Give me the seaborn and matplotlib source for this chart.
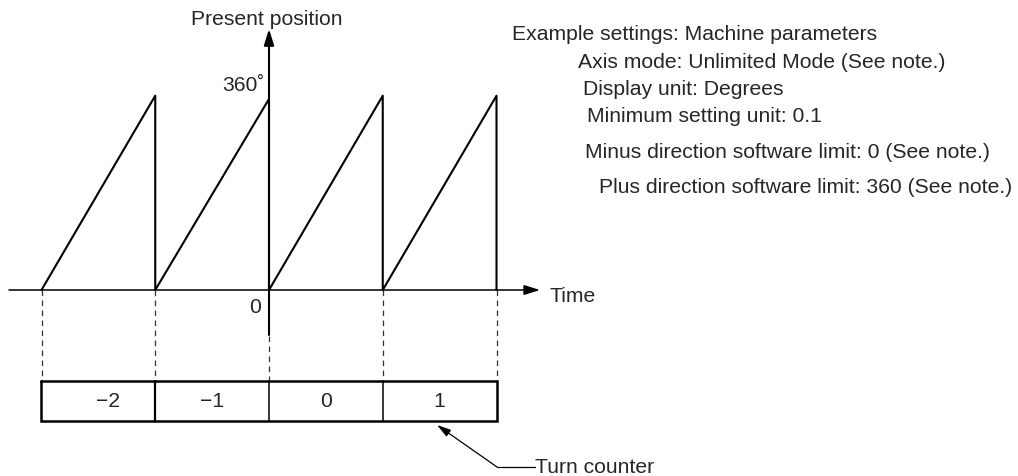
import matplotlib
matplotlib.use("Agg")
import matplotlib.pyplot as plt
import seaborn as sns
import numpy as np
import pandas as pd

# ---- data ----
turn_starts = [-2, -1, 0, 1]          # time (in turns) where each ramp starts
turn_ends = [-1, 0, 1, 2]             # time where each ramp ends
ramp_tops = [360, 354, 360, 360]      # present position reached at ramp end (deg)
counter_values = ["\u22122", "\u22121", "0", "1"]
settings_lines = [
    "Example settings: Machine parameters",
    "Axis mode: Unlimited Mode (See note.)",
    "Display unit: Degrees",
    "Minimum setting unit: 0.1",
    "Minus direction software limit: 0 (See note.)",
    "Plus direction software limit: 360 (See note.)",
]

sns.set_theme(style="white")
plt.rcParams['font.family'] = ['Liberation Sans', 'DejaVu Sans']

W, H = 1018, 477
fig = plt.figure(figsize=(W / 100, H / 100), dpi=100)
ax = fig.add_axes([0, 0, 1, 1])

# pixel <-> data helpers (layout only)
X0, XS = 269.0, 113.75
Y0, YS = 291.0, 194.3 / 360.0
def fx(px):
    return (px - X0) / XS
def fy(py):
    return (Y0 - py) / YS

ax.set_xlim(fx(0), fx(W))
ax.set_ylim(fy(H), fy(0))
ax.axis("off")

# sawtooth path built from the arrays
xs, ys = [], []
for s, e, top in zip(turn_starts, turn_ends, ramp_tops):
    xs += [s, e, e]
    ys += [0, top, 0]
df = pd.DataFrame({"t": xs, "pos": ys, "order": range(len(xs))})
sns.lineplot(data=df, x="t", y="pos", sort=False, estimator=None,
             color="black", lw=1.5, ax=ax)

FS = 15.2
# horizontal (time) axis with arrow
ax.annotate("", xy=(fx(540), 0), xytext=(fx(9), 0),
            arrowprops=dict(arrowstyle="-|>,head_length=0.8,head_width=0.25",
                            color="black", lw=1.1, shrinkA=0, shrinkB=0))
# vertical (position) axis with arrow
ax.annotate("", xy=(0, fy(30)), xytext=(0, fy(336)),
            arrowprops=dict(arrowstyle="-|>,head_length=0.8,head_width=0.25",
                            color="black", lw=1.5, shrinkA=0, shrinkB=0))

ax.text(fx(267), fy(20), "Present position", ha="center", va="center", fontsize=FS)
ax.text(fx(265), fy(86), "360\u02da", ha="right", va="center", fontsize=FS)
ax.text(fx(261), fy(308), "0", ha="right", va="center", fontsize=FS)
ax.text(fx(550), fy(297), "Time", ha="left", va="center", fontsize=FS)

# dashed drop lines to the turn counter
box_top, box_bot = fy(381.5), fy(421.5)
bounds = sorted(set(turn_starts + turn_ends))
for b in bounds:
    top = fy(337) if b == 0 else 0
    ax.plot([b, b], [top, box_top], color="#333333", lw=0.9,
            ls=(0, (4.5, 3.5)))

# turn counter box
left, right = bounds[0] - 0.005, bounds[-1]
ax.plot([left, right, right, left, left],
        [box_top, box_top, box_bot, box_bot, box_top],
        color="black", lw=1.8, solid_joinstyle="miter")
for b in bounds[1:-1]:
    ax.plot([b, b], [box_top, box_bot], color="black",
            lw=1.6 if b < 0 else 1.1)
for s, e, lab in zip(turn_starts, turn_ends, counter_values):
    cx = (s + e) / 2
    if lab.startswith("\u2212") and s == turn_starts[0]:
        cx += fx(109) - fx(99)
    ax.text(cx, (box_top + box_bot) / 2, lab, ha="center",
            va="center", fontsize=FS)

# Turn counter leader line
ax.plot([fx(497), fx(535)], [fy(468), fy(468)], color="black", lw=0.9)
ax.annotate("", xy=(fx(437), fy(426)), xytext=(fx(497), fy(468)),
            arrowprops=dict(arrowstyle="-|>,head_length=0.7,head_width=0.2",
                            color="black", lw=0.9, shrinkA=0, shrinkB=0))
ax.text(fx(535), fy(468), "Turn counter", ha="left", va="center", fontsize=FS)

# settings text block
tx = [512, 578, 583, 587, 585, 599]
ty = [35, 63, 90, 117, 153, 188]
for x, y, s in zip(tx, ty, settings_lines):
    ax.text(fx(x), fy(y), s, ha="left", va="center", fontsize=FS)

fig.savefig("out.png", dpi=100)
